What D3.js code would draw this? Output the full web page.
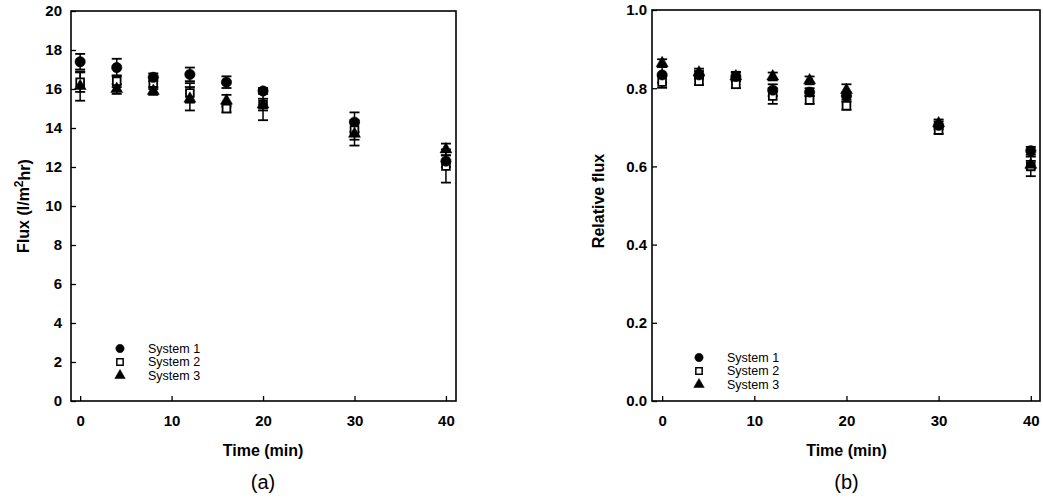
<!DOCTYPE html>
<html>
<head>
<meta charset="utf-8">
<script src="https://cdn.jsdelivr.net/npm/d3@7"></script>
<style>
  body { margin: 0; background: #fff; }
  svg { display: block; font-family: "Liberation Sans", Arial, sans-serif; }
</style>
</head>
<body>
<svg id="chart" width="1043" height="499"></svg>
<script>
// time points (min)
const times = [0, 4, 8, 12, 16, 20, 30, 40];

// panel (a) flux, l/m2hr
const flux1 = [17.4, 17.1, 16.6, 16.75, 16.35, 15.9, 14.3, 12.3];
const flux2 = [16.35, 16.4, 16.3, 15.8, 15.0, 15.2, 13.9, 12.05];
const flux3 = [16.15, 16.0, 15.9, 15.5, 15.4, 15.2, 13.7, 12.9];
const fluxErr1 = [0.4, 0.45, 0.2, 0.35, 0.3, 0.15, 0.5, 0.3];
const fluxErr2 = [0.5, 0.3, 0.3, 0.5, 0.2, 0.3, 0.5, 0.85];
const fluxErr3 = [0.75, 0.25, 0.2, 0.6, 0.3, 0.8, 0.6, 0.3];

// panel (b) relative flux
const rel1 = [0.834, 0.834, 0.83, 0.795, 0.79, 0.78, 0.705, 0.64];
const rel2 = [0.816, 0.818, 0.81, 0.78, 0.77, 0.755, 0.693, 0.6];
const rel3 = [0.864, 0.84, 0.83, 0.83, 0.82, 0.795, 0.71, 0.604];
const relErr1 = [0.02, 0.01, 0.01, 0.015, 0.01, 0.01, 0.01, 0.01];
const relErr2 = [0.015, 0.01, 0.01, 0.02, 0.01, 0.01, 0.01, 0.025];
const relErr3 = [0.01, 0.01, 0.012, 0.01, 0.01, 0.015, 0.01, 0.01];

const seriesNames = ["System 1", "System 2", "System 3"];
const xTicks = [0, 10, 20, 30, 40];
const fluxTicks = [0, 2, 4, 6, 8, 10, 12, 14, 16, 18, 20];
const relTicks = [0, 0.2, 0.4, 0.6, 0.8, 1.0];

const svg = d3.select("#chart");

function symbolFor(i) {
  return [d3.symbolCircle, d3.symbolSquare, d3.symbolTriangle][i];
}

function drawPanel(opts) {
  const x = d3.scaleLinear().domain(opts.xDomain).range([opts.left, opts.right]);
  const y = d3.scaleLinear().domain(opts.yDomain).range([opts.bottom, opts.top]);
  const g = svg.append("g");

  // frame
  g.append("rect")
    .attr("x", opts.left).attr("y", opts.top)
    .attr("width", opts.right - opts.left).attr("height", opts.bottom - opts.top)
    .attr("fill", "none").attr("stroke", "#000").attr("stroke-width", 1.6);

  // axes with inward ticks
  const xAxis = g.append("g").attr("transform", `translate(0,${opts.bottom})`)
    .call(d3.axisBottom(x).tickValues(xTicks).tickSizeInner(-5).tickSizeOuter(0).tickPadding(14));
  const yAxis = g.append("g").attr("transform", `translate(${opts.left},0)`)
    .call(d3.axisLeft(y).tickValues(opts.yTicks).tickFormat(opts.yFormat)
      .tickSizeInner(-5).tickSizeOuter(0).tickPadding(opts.yPad));
  [xAxis, yAxis].forEach(a => {
    a.select(".domain").remove();
    a.selectAll("line").attr("stroke", "#000").attr("stroke-width", 1.3);
    a.selectAll("text").attr("fill", "#000").style("font-size", "15px")
      .style("font-weight", "bold");
  });

  // error bars + markers
  opts.series.forEach((vals, si) => {
    const errs = opts.errors[si];
    const sg = g.append("g");
    times.forEach((t, i) => {
      const cx = x(t);
      const y1 = y(vals[i] + errs[i]), y2 = y(vals[i] - errs[i]);
      sg.append("line").attr("x1", cx).attr("x2", cx).attr("y1", y1).attr("y2", y2)
        .attr("stroke", "#000").attr("stroke-width", 1.5);
      [y1, y2].forEach(yy => {
        sg.append("line").attr("x1", cx - 5).attr("x2", cx + 5).attr("y1", yy).attr("y2", yy)
          .attr("stroke", "#000").attr("stroke-width", 1.8);
      });
    });
  });
  // draw in order: squares, triangles, circles so overlaps look similar
  [1, 2, 0].forEach(si => {
    const vals = opts.series[si];
    g.selectAll(null).data(times).enter().append("path")
      .attr("transform", (t, i) => `translate(${x(t)},${y(vals[i])})`)
      .attr("d", d3.symbol().type(symbolFor(si)).size(si === 1 ? 60 : si === 2 ? 62 : 85))
      .attr("fill", si === 1 ? "#fff" : "#000")
      .attr("stroke", "#000").attr("stroke-width", si === 1 ? 1.8 : 0.5);
  });

  // legend
  seriesNames.forEach((name, si) => {
    const ly = opts.legendY + (si - 1) * 13.5;
    g.append("path")
      .attr("transform", `translate(${opts.legendX},${ly})`)
      .attr("d", d3.symbol().type(symbolFor(si)).size(si === 1 ? 40 : si === 2 ? 48 : 55))
      .attr("fill", si === 1 ? "#fff" : "#000")
      .attr("stroke", "#000").attr("stroke-width", si === 1 ? 1.5 : 0.5);
    g.append("text").attr("x", opts.legendX + 28).attr("y", ly)
      .attr("dy", "0.35em").style("font-size", "12.5px").text(name);
  });

  // labels
  const xMid = (x(0) + x(40)) / 2;
  g.append("text").attr("x", xMid).attr("y", 450).attr("text-anchor", "middle")
    .attr("dy", "0.35em").style("font-size", "16px").style("font-weight", "bold").text("Time (min)");
  g.append("text").attr("x", xMid).attr("y", 482).attr("text-anchor", "middle")
    .attr("dy", "0.35em").style("font-size", "20px").text(opts.tag);

  const yl = g.append("text")
    .attr("transform", `translate(${opts.yLabelX},${opts.yLabelY}) rotate(-90)`)
    .attr("text-anchor", "middle").attr("dy", "0.35em")
    .style("font-size", "16px").style("font-weight", "bold");
  opts.yLabel(yl);
}

drawPanel({
  left: 71, right: 456, top: 11, bottom: 401,
  xDomain: [-1, 41.1], yDomain: [0, 20],
  yTicks: fluxTicks, yFormat: d3.format("d"), yPad: 9,
  series: [flux1, flux2, flux3], errors: [fluxErr1, fluxErr2, fluxErr3],
  legendX: 120, legendY: 362, tag: "(a)",
  yLabelX: 23, yLabelY: 206,
  yLabel: t => {
    t.append("tspan").text("Flux (l/m");
    t.append("tspan").attr("dy", "-0.45em").style("font-size", "12px").text("2");
    t.append("tspan").attr("dy", "0.45em").text("hr)");
  }
});

drawPanel({
  left: 652, right: 1040, top: 10, bottom: 401,
  xDomain: [-1.1, 41], yDomain: [0, 1],
  yTicks: relTicks, yFormat: d3.format(".1f"), yPad: 5,
  series: [rel1, rel2, rel3], errors: [relErr1, relErr2, relErr3],
  legendX: 699, legendY: 371, tag: "(b)",
  yLabelX: 598, yLabelY: 201,
  yLabel: t => t.text("Relative flux")
});
</script>
</body>
</html>
